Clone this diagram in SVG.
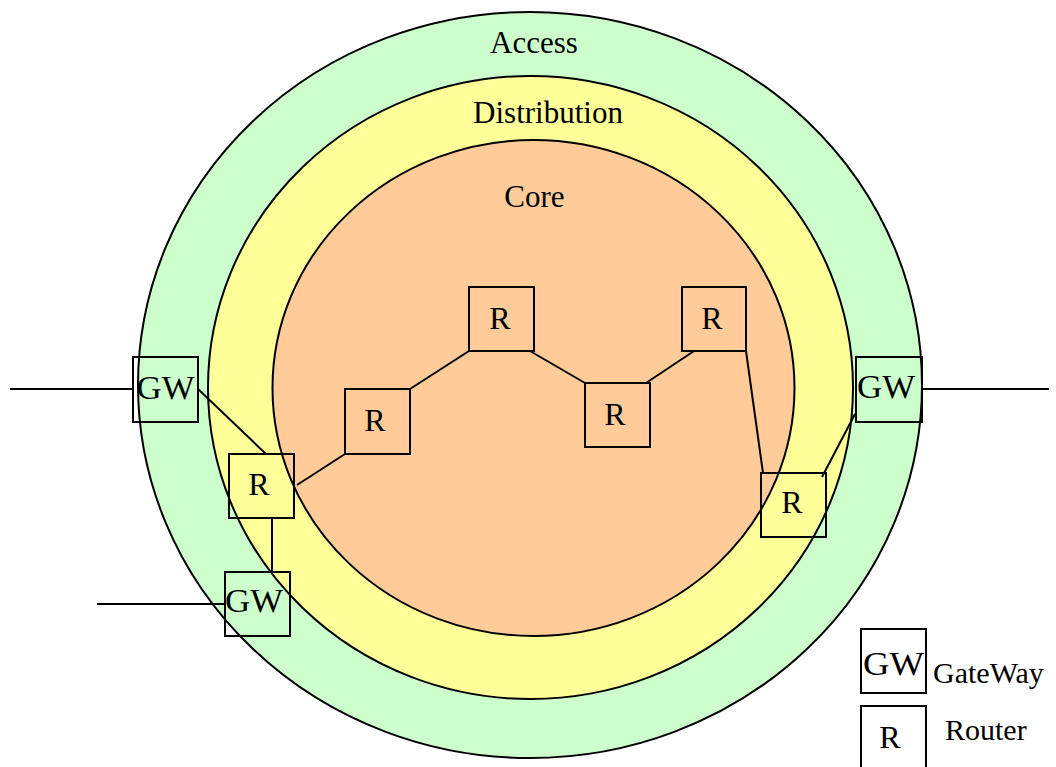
<svg xmlns="http://www.w3.org/2000/svg" width="1056" height="767" viewBox="0 0 1056 767">
  <style>
    .ring { stroke: #000; stroke-width: 2; }
    .access { fill: #ccffcc; }
    .dist { fill: #ffff99; }
    .core { fill: #ffcc99; }
    .box { stroke: #000; stroke-width: 2; fill: none; }
    .link { stroke: #000; stroke-width: 2; fill: none; }
    text { font-family: "Liberation Serif", "Times New Roman", serif; fill: #000; }
    .label { font-size: 31px; text-anchor: middle; }
    .t-gw { font-size: 34px; text-anchor: middle; }
    .t-r { font-size: 32px; text-anchor: middle; }
    .t-legend { font-size: 30px; }
  </style>

  <!-- Network layers -->
  <g id="layers">
    <ellipse id="access-layer" class="ring access" cx="530" cy="385" rx="392" ry="373"/>
    <ellipse id="distribution-layer" class="ring dist" cx="530.5" cy="387.5" rx="322.5" ry="311.5"/>
    <ellipse id="core-layer" class="ring core" cx="533.5" cy="388" rx="261" ry="248"/>
    <text class="label" x="534" y="53">Access</text>
    <text class="label" x="548" y="123">Distribution</text>
    <text class="label" x="534.5" y="207">Core</text>
  </g>

  <!-- Links -->
  <g id="connectors">
    <line class="link" x1="10" y1="389" x2="133" y2="389"/>
    <line class="link" x1="198" y1="389" x2="266" y2="454"/>
    <line class="link" x1="297" y1="485" x2="345" y2="454"/>
    <line class="link" x1="272" y1="518" x2="272" y2="572"/>
    <line class="link" x1="97" y1="604" x2="225" y2="604"/>
    <line class="link" x1="410" y1="389" x2="469" y2="351"/>
    <line class="link" x1="530" y1="351" x2="585" y2="383"/>
    <line class="link" x1="646" y1="383" x2="694" y2="351"/>
    <line class="link" x1="746" y1="351" x2="763" y2="473"/>
    <line class="link" x1="822" y1="477" x2="855" y2="414"/>
    <line class="link" x1="922" y1="389" x2="1049" y2="389"/>
  </g>

  <!-- Gateways and routers (outline only, layers show through) -->
  <g id="gw-west">
    <rect class="box" x="133" y="357" width="65" height="65"/>
    <text class="t-gw" x="165.5" y="399" textLength="58" lengthAdjust="spacingAndGlyphs">GW</text>
  </g>
  <g id="r-west">
    <rect class="box" x="229" y="454" width="65" height="64"/>
    <text class="t-r" x="259" y="495">R</text>
  </g>
  <g id="gw-southwest">
    <rect class="box" x="225" y="572" width="65" height="64"/>
    <text class="t-gw" x="254" y="612" textLength="58" lengthAdjust="spacingAndGlyphs">GW</text>
  </g>
  <g id="r-core-1">
    <rect class="box" x="345" y="389" width="65" height="65"/>
    <text class="t-r" x="375" y="431">R</text>
  </g>
  <g id="r-core-2">
    <rect class="box" x="469" y="287" width="65" height="64"/>
    <text class="t-r" x="500" y="329">R</text>
  </g>
  <g id="r-core-3">
    <rect class="box" x="585" y="383" width="65" height="64"/>
    <text class="t-r" x="615" y="425">R</text>
  </g>
  <g id="r-core-4">
    <rect class="box" x="682" y="287" width="64" height="64"/>
    <text class="t-r" x="712" y="329">R</text>
  </g>
  <g id="gw-east">
    <rect class="box" x="856" y="357" width="66" height="65"/>
    <text class="t-gw" x="886" y="398" textLength="58" lengthAdjust="spacingAndGlyphs">GW</text>
  </g>
  <g id="r-east">
    <rect class="box" x="761" y="473" width="65" height="64"/>
    <text class="t-r" x="792" y="513">R</text>
  </g>

  <!-- Legend -->
  <g id="legend-gateway">
    <rect class="box" x="861" y="629" width="65" height="64"/>
    <text class="t-gw" x="893.5" y="675" textLength="61" lengthAdjust="spacingAndGlyphs">GW</text>
    <text class="t-legend" x="933" y="683">GateWay</text>
  </g>
  <g id="legend-router">
    <rect class="box" x="861" y="706" width="65" height="70"/>
    <text class="t-r" x="890" y="748">R</text>
    <text class="t-legend" x="945" y="740">Router</text>
  </g>
</svg>
